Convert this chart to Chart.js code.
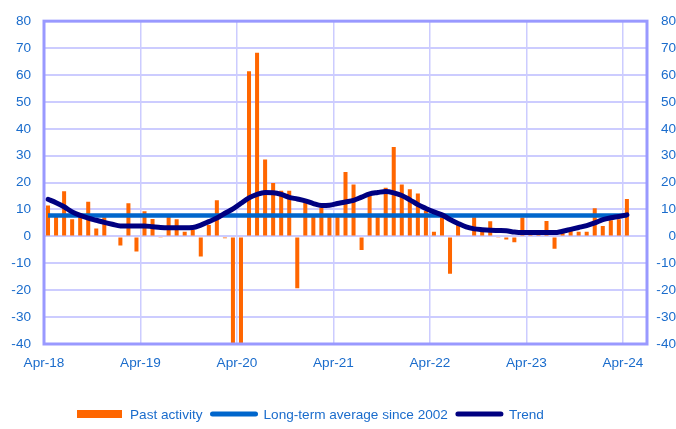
<!DOCTYPE html>
<html>
<head>
<meta charset="utf-8">
<title>Past activity</title>
<script src="https://cdn.jsdelivr.net/npm/chart.js@4.4.1/dist/chart.umd.min.js"></script>
<style>
    body { margin: 0; background: #fff; }
    .chart-box { position: relative; width: 676px; height: 429px; }
</style>
</head>
<body>
<div class="chart-box">
    <canvas id="myChart"></canvas>
</div>
<script>
// monthly data, Apr-18 .. Apr-24
const tickLabels = ['Apr-18', 'Apr-19', 'Apr-20', 'Apr-21', 'Apr-22', 'Apr-23', 'Apr-24'];

const pastActivity = [
    11.5, 7.5, 16.8, 6.4, 7.2, 12.9, 2.9, 7.1, 0.3, -3.4, 12.3, -5.6,
    9.3, 6.5, -0.5, 7.2, 6.4, 1.7, 2.5, -7.5, 4.2, 13.4, -0.7, -41,
    -41, 61.4, 68.3, 28.6, 19.8, 17.0, 17.0, -19.3, 12.5, 7.5, 10.7, 7.4,
    7.4, 23.9, 19.3, -5.1, 15.1, 7.2, 18.1, 33.2, 19.3, 17.5, 15.9, 9.5,
    1.7, 7.3, -13.9, 4.3, 0.3, 7.1, 1.7, 5.6, -0.5, -1.2, -2.2, 7.0,
    0.8, 0.8, 5.7, -4.6, 1.5, 2.0, 1.7, 1.7, 10.5, 3.9, 6.0, 6.4,
    13.9
];

const trend = [
    13.8, 12.5, 11.0, 9.1, 7.8, 6.8, 6.0, 5.2, 4.5, 3.9, 3.9, 3.9,
    3.9, 3.6, 3.3, 3.2, 3.2, 3.2, 3.3, 4.2, 5.5, 6.8, 8.6, 10.2,
    12.3, 14.3, 15.6, 16.3, 16.2, 15.6, 14.5, 13.9, 13.2, 12.2, 11.5, 11.6,
    12.2, 12.8, 13.4, 14.6, 15.8, 16.3, 16.7, 16.2, 15.2, 13.6, 11.8, 10.4,
    9.1, 8.0, 6.3, 4.8, 3.5, 2.8, 2.5, 2.3, 2.2, 2.1, 1.6, 1.4,
    1.4, 1.4, 1.4, 1.4, 1.9, 2.6, 3.3, 4.0, 5.0, 6.2, 6.9, 7.4,
    8.0
];

const longTermAverage = 7.8;

const ORANGE = '#ff6600';
const BLUE = '#0066cc';
const NAVY = '#000080';
const TEXT = '#1a6ccc';

Chart.defaults.font.family = "'Liberation Sans', Arial, sans-serif";
Chart.defaults.font.size = 13.6;
Chart.defaults.color = TEXT;

const legendItems = [
    { text: 'Past activity', color: ORANGE, kind: 'box' },
    { text: 'Long-term average since 2002', color: BLUE, kind: 'line' },
    { text: 'Trend', color: NAVY, kind: 'line' }
];

// frame round the plot area
const plotFrame = {
    id: 'plotFrame',
    afterDatasetsDraw(chart) {
        const { ctx, chartArea: a } = chart;
        ctx.save();
        ctx.strokeStyle = '#9999ff';
        ctx.lineWidth = 3;
        ctx.strokeRect(a.left, a.top, a.right - a.left, a.bottom - a.top);
        ctx.restore();
    }
};

// legend row under the axis
const bottomLegend = {
    id: 'bottomLegend',
    afterDraw(chart) {
        const ctx = chart.ctx;
        const y = 414;
        let x = 77;
        ctx.save();
        ctx.font = '13.6px ' + Chart.defaults.font.family;
        ctx.textBaseline = 'middle';
        legendItems.forEach(item => {
            if (item.kind === 'box') {
                ctx.fillStyle = item.color;
                ctx.fillRect(x, y - 4, 45, 8);
            } else {
                ctx.strokeStyle = item.color;
                ctx.lineWidth = 5;
                ctx.lineCap = 'round';
                ctx.beginPath();
                ctx.moveTo(x + 2, y);
                ctx.lineTo(x + 45, y);
                ctx.stroke();
            }
            x += 45 + 8;
            ctx.fillStyle = TEXT;
            ctx.fillText(item.text, x, y + 1);
            x += ctx.measureText(item.text).width + 8;
        });
        ctx.restore();
    }
};

const ctx = document.getElementById('myChart');

new Chart(ctx, {
    type: 'bar',
    data: {
        datasets: [{
            label: 'Past activity',
            data: pastActivity.map((v, i) => ({ x: i, y: v })),
            backgroundColor: ORANGE,
            barPercentage: 0.5,
            categoryPercentage: 1,
            order: 3
        },
        {
            type: 'line',
            label: 'Long-term average since 2002',
            data: pastActivity.map((v, i) => ({ x: i, y: longTermAverage })),
            borderColor: BLUE,
            borderWidth: 4.5,
            pointRadius: 0,
            order: 2
        },
        {
            type: 'line',
            label: 'Trend',
            data: trend.map((v, i) => ({ x: i, y: v })),
            borderColor: NAVY,
            borderWidth: 5,
            pointRadius: 0,
            cubicInterpolationMode: 'monotone',
            borderCapStyle: 'round',
            order: 1
        }]
    },
    options: {
        responsive: true,
        maintainAspectRatio: false,
        devicePixelRatio: 1,
        animation: false,
        layout: {
            padding: { top: 15, bottom: 55, left: 0, right: 0 }
        },
        scales: {
            x: {
                type: 'linear',
                min: -0.5,
                max: 74.5,
                offset: false,
                afterBuildTicks: scale => {
                    scale.ticks = tickLabels.map((t, k) => ({ value: k * 12 - 0.5 }));
                },
                afterFit: scale => { scale.height = 30; },
                grid: {
                    offset: false,
                    color: '#ccccff',
                    lineWidth: 1.5,
                    drawTicks: false
                },
                border: { display: false },
                ticks: {
                    padding: 11,
                    maxRotation: 0,
                    autoSkip: false,
                    callback: (value, index) => tickLabels[index]
                }
            },
            y: {
                position: 'left',
                min: -40,
                max: 80,
                afterFit: scale => { scale.width = 44; },
                grid: {
                    color: '#ccccff',
                    lineWidth: 2,
                    drawTicks: false
                },
                border: { display: false },
                ticks: {
                    stepSize: 10,
                    padding: 13
                }
            },
            y2: {
                position: 'right',
                min: -40,
                max: 80,
                afterFit: scale => { scale.width = 29; },
                grid: {
                    display: false,
                    drawTicks: false
                },
                border: { display: false },
                ticks: {
                    stepSize: 10,
                    padding: 5,
                    crossAlign: 'far'
                }
            }
        },
        plugins: {
            legend: { display: false },
            tooltip: { enabled: false }
        }
    },
    plugins: [plotFrame, bottomLegend]
});
</script>
</body>
</html>
